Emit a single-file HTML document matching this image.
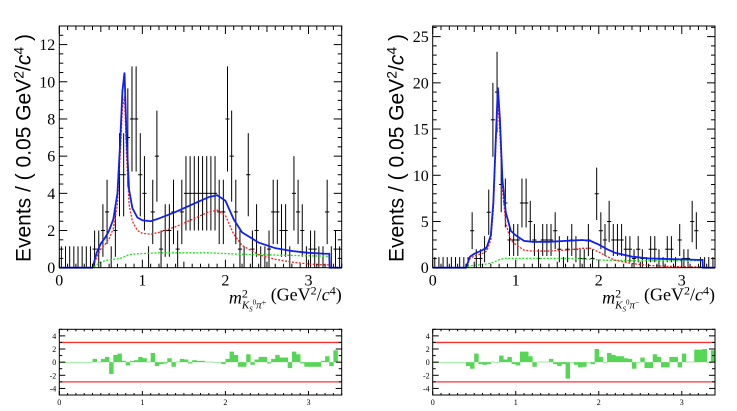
<!DOCTYPE html>
<html><head><meta charset="utf-8"><style>
html,body{margin:0;padding:0;background:#fff;}
svg{display:block;}
</style></head><body>
<svg id="c" width="737" height="411" xmlns="http://www.w3.org/2000/svg"></svg>
<script>
// ---- data ----
const binWidth = 0.05;
const leftCounts = [0,0,0,0,0,0,0,0,1,1,2,3,0,2,5,5,7,8,8,5,4,0,3,6,1,2,2,3,1,3,4,4,4,4,4,4,4,4,3,3,8,6,3,1,0,5,1,2,0,0,1,3,3,2,2,0,4,3,2,0,1,1,0,0,3,0,1,0];
const rightCounts = [0,0,0,0,0,0,0,0,0,4,1,1,2,6,16,19,9,7,3,3,3,7,7,5,3,1,3,3,3,4,2,0,2,3,2,1,1,3,1,8,4,3,5,3,3,3,2,2,1,2,1,0,2,2,1,0,2,2,0,3,1,1,5,4,0,0,0,0];
const curveX = [0,0.4,0.45,0.5,0.55,0.6,0.65,0.7,0.73,0.76,0.785,0.81,0.84,0.88,0.94,1.0,1.1,1.2,1.4,1.6,1.8,1.9,2.0,2.1,2.2,2.4,2.6,2.8,3.0,3.2,3.25,3.255,3.4];
const leftTotal = [0,0,0.8,1.3,1.6,2.0,2.6,4.0,6.5,9.5,10.5,7.0,4.2,3.2,2.7,2.55,2.5,2.65,3.0,3.4,3.8,3.9,3.6,2.6,1.9,1.35,1.05,0.9,0.8,0.75,0.75,0,0];
const leftSignal = [0,0,0.55,1.0,1.25,1.55,2.1,3.4,5.8,8.6,9.2,6.0,3.4,2.5,2.0,1.85,1.8,1.9,2.2,2.6,3.0,3.1,2.8,1.8,1.2,0.7,0.45,0.3,0.2,0.15,0.15,0,0];
const leftBkg = [0,0,0.15,0.3,0.38,0.42,0.45,0.48,0.5,0.55,0.6,0.65,0.7,0.72,0.75,0.76,0.78,0.8,0.8,0.8,0.8,0.78,0.76,0.74,0.72,0.7,0.68,0.66,0.64,0.62,0.6,0,0];
const rightTotal = [0,0,1.2,1.5,1.7,1.9,2.2,3.5,7.0,14,19.5,16,9.5,6.0,4.0,3.5,2.9,2.8,2.8,2.9,3.0,2.9,2.5,2.0,1.6,1.2,1.0,0.95,0.9,0.85,0.85,0,0];
const rightSignal = [0,0,1.0,1.25,1.4,1.55,1.8,3.0,6.3,13,18,14.5,8.5,4.8,3.0,2.5,1.9,1.8,1.8,1.9,2.1,2.1,1.7,1.2,0.8,0.45,0.25,0.15,0.1,0.08,0.08,0,0];
const rightBkg = [0,0,0.2,0.25,0.3,0.35,0.4,0.5,0.6,0.7,0.8,0.9,0.95,1.0,1.0,1.0,1.0,1.0,1.0,1.0,0.95,0.9,0.85,0.8,0.8,0.75,0.75,0.75,0.75,0.75,0.75,0,0];
const leftPull = [-0.1,-0.1,-0.1,-0.1,-0.1,-0.1,-0.1,-0.1,0.5,0.1,0.5,0.8,-1.8,1.1,1.3,0.2,-0.5,0.2,0.3,0.8,0.6,0.1,1.4,-0.6,-0.3,-0.2,0.6,-0.7,0.1,0.5,0.4,-0.2,0.3,0.2,0.2,0.1,0.1,0,0,-0.3,0.5,1.6,1.1,-0.7,-0.7,1.2,-0.4,0.4,0.8,0.8,-0.2,0.5,1.1,0.7,0.7,-0.9,1.6,1.2,-0.2,-0.7,-0.7,-0.7,-0.7,0.2,0.9,-0.6,1.8,-0.1];
const rightPull = [-0.1,-0.1,-0.1,-0.1,-0.1,-0.1,-0.1,-0.1,-0.6,-1.0,1.3,-0.3,-0.4,-0.3,0.1,-0.1,1.0,0.4,0.8,-0.3,-0.5,1.6,1.6,0.9,-0.7,0.1,0.1,0.1,0.5,-0.3,-0.6,-0.3,-2.5,-0.05,-0.4,-0.8,-0.7,-0.1,-0.3,2.0,0.8,-0.1,1.4,1.1,0.9,0.9,0.6,0.5,-1.0,-0.1,0.7,-0.9,-0.9,1.2,0.8,-0.8,-0.8,0.8,0.8,-0.8,1.3,0.1,0.1,1.9,1.9,2.0,-0.1,1.8];
const xTicks = [0,1,2,3];
const leftYTicks = [0,2,4,6,8,10,12];
const rightYTicks = [0,5,10,15,20,25];
const pullTicks = [-4,-2,0,2,4];

const svg = document.getElementById('c');
const NS = 'http://www.w3.org/2000/svg';
const SERIF = '"Liberation Serif", serif';
const SANS = '"Liberation Sans", sans-serif';
function mk(tag, attrs, parent){
  const e = document.createElementNS(NS, tag);
  for (const k in attrs) e.setAttribute(k, attrs[k]);
  (parent||svg).appendChild(e);
  return e;
}

function mainPanel(name, L, R, T, B, ymax, counts, total, signal, bkg, yTicks, yMinorStep, xsub){
  const g = mk('g', {});
  
  
  const sx = v => L + (R - L) * v / 3.4;
  const sy = v => B - (B - T) * v / ymax;
  const pts = mk('g', {stroke:'#000','stroke-width':1,fill:'none'}, g);
  
  
  counts.forEach((n, i) => {
    const x0 = i * binWidth, xc = x0 + binWidth / 2;
    const err = n === 0 ? 1.15 : Math.sqrt(n);
    const lo = Math.max(0, n - err), hi = n + err;
    mk('line', {x1:sx(xc), x2:sx(xc), y1:sy(lo), y2:sy(Math.min(hi, ymax))}, pts);
    if (n > 0) mk('line', {x1:sx(x0), x2:sx(x0 + binWidth), y1:sy(n), y2:sy(n)}, pts);
  });
  function curve(vals, color, dash, w, nm){
    const d = curveX.map((x, i) => (i ? 'L' : 'M') + sx(x).toFixed(2) + ',' + sy(vals[i]).toFixed(2)).join(' ');
    const p = mk('path', {d:d, fill:'none', stroke:color, 'stroke-width':w, 'stroke-dasharray':dash}, g);
    
    
  }
  curve(bkg, '#22dd22', '2,1.5', 1.3, name + '-background-curve');
  curve(signal, '#ee2222', '2,1.5', 1.3, name + '-signal-curve');
  curve(total, '#1020ee', '', 1.8, name + '-total-fit-curve');
  const fr = mk('rect', {x:L, y:T, width:R - L, height:B - T, fill:'none', stroke:'#000', 'stroke-width':1}, g);
  
  
  for (let v = 0; v <= 3.4001; v += 0.1) {
    const major = Math.abs(v - Math.round(v)) < 1e-6;
    const len = major ? 8 : (Math.abs(v * 2 - Math.round(v * 2)) < 1e-6 ? 6 : 4);
    mk('line', {x1:sx(v), x2:sx(v), y1:B, y2:B - len, stroke:'#000'}, g);
    mk('line', {x1:sx(v), x2:sx(v), y1:T, y2:T + len, stroke:'#000'}, g);
  }
  xTicks.forEach(v => {
    const t = mk('text', {x:sx(v), y:B + 18, 'text-anchor':'middle', 'font-family':SERIF, 'font-size':16}, g);
    t.textContent = v;
    
    
  });
  for (let v = 0; v <= ymax + 1e-6; v += yMinorStep) {
    const major = yTicks.some(t => Math.abs(t - v) < 1e-6);
    const len = major ? 8 : 4;
    mk('line', {x1:L, x2:L + len, y1:sy(v), y2:sy(v), stroke:'#000'}, g);
    mk('line', {x1:R, x2:R - len, y1:sy(v), y2:sy(v), stroke:'#000'}, g);
  }
  yTicks.forEach(v => {
    const t = mk('text', {x:L - 4, y:sy(v) + 5.5, 'text-anchor':'end', 'font-family':SERIF, 'font-size':16}, g);
    t.textContent = v;
    
    
  });
  const yt = mk('text', {transform:'translate(' + (L - 29) + ',' + (T + 122) + ') rotate(-90)', 'text-anchor':'middle', 'font-family':SANS, 'font-size':21}, g);
  yt.innerHTML = 'Events / ( 0.05 GeV<tspan dy="-7" font-size="14">2</tspan><tspan dy="7">/</tspan><tspan font-style="italic">c</tspan><tspan dy="-7" font-size="14">4</tspan><tspan dy="7"> )</tspan>';
  
  
  const xt = mk('text', {x:R, y:B + 36, 'text-anchor':'end', 'font-family':SERIF, 'font-size':18}, g);
  xt.innerHTML = '<tspan font-style="italic">m</tspan><tspan dy="-6" font-size="12">2</tspan><tspan dx="-6" dy="11" font-size="11" font-style="italic">K</tspan><tspan dy="3" font-size="7" font-style="italic">S</tspan><tspan dy="-7" font-size="7">0</tspan><tspan dy="4" font-size="11" font-style="italic">π</tspan><tspan dy="-3" font-size="8">' + xsub + '</tspan><tspan dy="-5"> (GeV</tspan><tspan dy="-6" font-size="12">2</tspan><tspan dy="6">/</tspan><tspan font-style="italic">c</tspan><tspan dy="-6" font-size="12">4</tspan><tspan dy="6">)</tspan>';
  
  
}

function pullPanel(name, L, R, T, B, pulls){
  const g = mk('g', {});
  
  
  const sx = v => L + (R - L) * v / 3.4;
  const sy = v => B - (B - T) * (v + 5) / 10;
  const bars = mk('g', {}, g);
  
  
  pulls.forEach((p, i) => {
    const y0 = sy(0), y1 = sy(p);
    const light = Math.abs(p) < 0.15;
    mk('rect', {x:sx(i * binWidth), y:Math.min(y0, y1), width:sx(binWidth) - sx(0) + 0.3, height:Math.max(Math.abs(y1 - y0), 1), fill: light ? '#9ee89e' : '#55d655'}, bars);
  });
  [3, -3].forEach(v => {
    const l = mk('line', {x1:L, x2:R, y1:sy(v), y2:sy(v), stroke:'#ff3030', 'stroke-width':1.3}, g);
    
    
  });
  mk('rect', {x:L, y:T, width:R - L, height:B - T, fill:'none', stroke:'#000', 'stroke-width':1}, g);
  for (let v = 0; v <= 3.4001; v += 0.1) {
    const major = Math.abs(v - Math.round(v)) < 1e-6;
    const len = major ? 4 : 2;
    mk('line', {x1:sx(v), x2:sx(v), y1:B, y2:B - len, stroke:'#000'}, g);
    mk('line', {x1:sx(v), x2:sx(v), y1:T, y2:T + len, stroke:'#000'}, g);
  }
  xTicks.forEach(v => {
    const t = mk('text', {x:sx(v), y:B + 10, 'text-anchor':'middle', 'font-family':SERIF, 'font-size':8}, g);
    t.textContent = v;
    
    
  });
  for (let v = -5; v <= 5; v++) {
    const major = v % 2 === 0;
    mk('line', {x1:L, x2:L + (major ? 6 : 3), y1:sy(v), y2:sy(v), stroke:'#000'}, g);
    mk('line', {x1:R, x2:R - (major ? 6 : 3), y1:sy(v), y2:sy(v), stroke:'#000'}, g);
  }
  pullTicks.forEach(v => {
    const t = mk('text', {x:L - 3, y:sy(v) + 3, 'text-anchor':'end', 'font-family':SERIF, 'font-size':8}, g);
    t.textContent = v;
    
    
  });
}

mainPanel('left-main-plot', 59.3, 341.7, 26, 267.7, 13.0, leftCounts, leftTotal, leftSignal, leftBkg, leftYTicks, 0.5, '+');
mainPanel('right-main-plot', 432.7, 715, 26, 267.7, 26.15, rightCounts, rightTotal, rightSignal, rightBkg, rightYTicks, 1, '−');
pullPanel('left-pull-plot', 59.3, 341.7, 329.3, 395, leftPull);
pullPanel('right-pull-plot', 432.7, 715, 329.3, 395, rightPull);
</script>
</body></html>
